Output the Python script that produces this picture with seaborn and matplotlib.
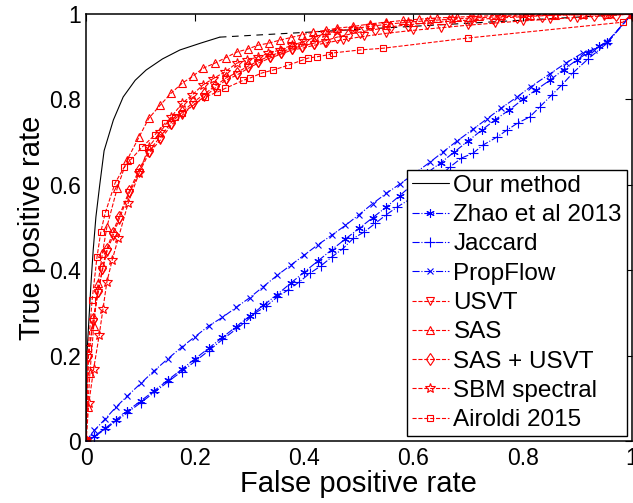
import matplotlib
matplotlib.use("Agg")
import matplotlib.pyplot as plt
import seaborn as sns

# ---- data ----
our_fpr = [0, 0.002, 0.009, 0.013, 0.018, 0.025, 0.033, 0.05, 0.068, 0.09, 0.11, 0.14, 0.172, 0.21, 0.245]
our_tpr = [0, 0.213, 0.37, 0.447, 0.525, 0.6, 0.68, 0.752, 0.806, 0.845, 0.869, 0.895, 0.916, 0.932, 0.946]
our_tail_fpr = [0.245, 1.0]
our_tail_tpr = [0.946, 1.0]

zhao_fpr = [0, 0.015, 0.035, 0.055, 0.075, 0.1, 0.125, 0.15, 0.175, 0.2, 0.225, 0.25, 0.275, 0.3, 0.325,
            0.35, 0.375, 0.4, 0.425, 0.45, 0.475, 0.5, 0.525, 0.55, 0.575, 0.6, 0.625, 0.65, 0.675, 0.7,
            0.725, 0.75, 0.775, 0.8, 0.825, 0.85, 0.875, 0.9, 0.92, 0.94, 0.955, 1.0]
zhao_tpr = [0, 0.012, 0.03, 0.05, 0.07, 0.094, 0.118, 0.143, 0.168, 0.193, 0.218, 0.243, 0.268, 0.293, 0.318,
            0.343, 0.37, 0.396, 0.422, 0.448, 0.473, 0.498, 0.523, 0.548, 0.575, 0.603, 0.628, 0.652, 0.677, 0.703,
            0.728, 0.753, 0.775, 0.8, 0.823, 0.845, 0.87, 0.893, 0.91, 0.925, 0.935, 1.0]

jac_fpr = [0, 0.015, 0.035, 0.055, 0.075, 0.1, 0.125, 0.15, 0.175, 0.2, 0.225, 0.25, 0.29, 0.31, 0.33, 0.35,
           0.37, 0.39, 0.41, 0.43, 0.45, 0.47, 0.49, 0.51, 0.53, 0.55, 0.57, 0.6, 0.63, 0.667, 0.688, 0.709,
           0.727, 0.753, 0.771, 0.791, 0.813, 0.831, 0.853, 0.872, 0.892, 0.92, 0.955, 1.0]
jac_tpr = [0, 0.01, 0.028, 0.047, 0.066, 0.09, 0.114, 0.139, 0.163, 0.187, 0.212, 0.238, 0.277, 0.3, 0.316, 0.337,
           0.354, 0.372, 0.393, 0.41, 0.431, 0.45, 0.475, 0.49, 0.51, 0.53, 0.548, 0.572, 0.6, 0.642, 0.663, 0.674,
           0.693, 0.712, 0.728, 0.745, 0.759, 0.782, 0.81, 0.834, 0.862, 0.895, 0.932, 1.0]

prop_fpr = [0, 0.015, 0.035, 0.055, 0.075, 0.1, 0.125, 0.15, 0.175, 0.2, 0.225, 0.25, 0.275, 0.3, 0.325, 0.35,
            0.375, 0.4, 0.425, 0.45, 0.475, 0.5, 0.525, 0.55, 0.575, 0.6, 0.63, 0.655, 0.68, 0.71, 0.735, 0.76,
            0.79, 0.815, 0.85, 0.88, 0.91, 0.93, 0.955, 1.0]
prop_tpr = [0, 0.025, 0.052, 0.08, 0.105, 0.135, 0.165, 0.193, 0.22, 0.245, 0.27, 0.29, 0.313, 0.336, 0.362, 0.388,
            0.412, 0.436, 0.46, 0.482, 0.505, 0.53, 0.556, 0.58, 0.602, 0.625, 0.653, 0.678, 0.703, 0.731, 0.755, 0.779,
            0.806, 0.83, 0.86, 0.886, 0.909, 0.917, 0.934, 1.0]

usvt_fpr = [0, 0.004, 0.013, 0.022, 0.03, 0.038, 0.049, 0.06, 0.079, 0.097, 0.115, 0.136, 0.156, 0.176, 0.196,
            0.216, 0.236, 0.256, 0.276, 0.297, 0.315, 0.337, 0.357, 0.377, 0.396, 0.418, 0.438, 0.47, 0.51, 0.55,
            0.6, 0.65, 0.7, 0.75, 0.8, 0.85, 0.9, 0.95, 1.0]
usvt_tpr = [0, 0.195, 0.28, 0.347, 0.4, 0.443, 0.48, 0.518, 0.58, 0.628, 0.674, 0.705, 0.74, 0.763, 0.787,
            0.806, 0.826, 0.845, 0.857, 0.873, 0.885, 0.897, 0.906, 0.916, 0.92, 0.927, 0.932, 0.94, 0.948, 0.955,
            0.962, 0.968, 0.974, 0.979, 0.984, 0.988, 0.992, 0.996, 1.0]

sas_fpr = [0, 0.003, 0.007, 0.014, 0.022, 0.03, 0.038, 0.057, 0.075, 0.097, 0.115, 0.136, 0.156, 0.176, 0.196,
           0.214, 0.236, 0.256, 0.276, 0.296, 0.315, 0.335, 0.355, 0.375, 0.395, 0.416, 0.44, 0.46, 0.49, 0.52,
           0.55, 0.58, 0.61, 0.643, 0.68, 0.72, 0.76, 0.813, 0.86, 0.91, 0.955, 1.0]
sas_tpr = [0, 0.08, 0.159, 0.27, 0.37, 0.44, 0.501, 0.592, 0.658, 0.712, 0.756, 0.787, 0.815, 0.838, 0.855,
           0.873, 0.885, 0.898, 0.911, 0.918, 0.927, 0.932, 0.939, 0.945, 0.951, 0.958, 0.962, 0.967, 0.971, 0.977,
           0.981, 0.985, 0.988, 0.991, 0.993, 0.995, 0.997, 0.998, 0.999, 1.0, 1.0, 1.0]

sasu_fpr = [0, 0.004, 0.013, 0.022, 0.03, 0.038, 0.049, 0.06, 0.079, 0.097, 0.115, 0.136, 0.156, 0.176, 0.196,
            0.216, 0.236, 0.256, 0.276, 0.297, 0.315, 0.337, 0.357, 0.377, 0.396, 0.418, 0.44, 0.46, 0.48, 0.502,
            0.53, 0.557, 0.59, 0.625, 0.665, 0.703, 0.745, 0.789, 0.835, 0.886, 0.93, 0.972, 1.0]
sasu_tpr = [0, 0.2, 0.285, 0.352, 0.405, 0.45, 0.488, 0.525, 0.585, 0.635, 0.68, 0.712, 0.746, 0.77, 0.793,
            0.812, 0.831, 0.85, 0.863, 0.878, 0.89, 0.902, 0.911, 0.92, 0.925, 0.932, 0.938, 0.946, 0.952, 0.958,
            0.964, 0.97, 0.975, 0.979, 0.983, 0.986, 0.99, 0.993, 0.996, 0.998, 0.998, 0.998, 1.0]

sbm_fpr = [0, 0.005, 0.014, 0.024, 0.031, 0.038, 0.048, 0.059, 0.077, 0.097, 0.115, 0.136, 0.156, 0.176, 0.194,
           0.214, 0.233, 0.255, 0.276, 0.295, 0.315, 0.334, 0.355, 0.377, 0.4, 0.42, 0.438, 0.46, 0.49, 0.52,
           0.55, 0.59, 0.63, 0.67, 0.71, 0.76, 0.81, 0.86, 0.91, 0.96, 1.0]
sbm_tpr = [0, 0.089, 0.17, 0.248, 0.31, 0.372, 0.425, 0.475, 0.557, 0.627, 0.689, 0.724, 0.759, 0.791, 0.81,
           0.834, 0.849, 0.865, 0.885, 0.892, 0.9, 0.908, 0.916, 0.927, 0.936, 0.946, 0.955, 0.96, 0.966, 0.971,
           0.976, 0.981, 0.985, 0.988, 0.991, 0.994, 0.996, 0.998, 0.999, 1.0, 1.0]

air_fpr = [0, 0.004, 0.011, 0.02, 0.027, 0.035, 0.053, 0.07, 0.081, 0.103, 0.126, 0.145, 0.163, 0.176, 0.218,
           0.24, 0.255, 0.288, 0.3, 0.322, 0.343, 0.37, 0.396, 0.407, 0.423, 0.445, 0.452, 0.502, 0.544, 0.7,
           0.984, 1.0]
air_tpr = [0, 0.218, 0.33, 0.431, 0.49, 0.534, 0.604, 0.642, 0.658, 0.689, 0.717, 0.745, 0.759, 0.768, 0.806,
           0.817, 0.826, 0.845, 0.85, 0.862, 0.869, 0.88, 0.892, 0.897, 0.9, 0.905, 0.909, 0.916, 0.92, 0.944,
           0.981, 1.0]

ticks = [0, 0.2, 0.4, 0.6, 0.8, 1]
tick_labels = ["0", "0.2", "0.4", "0.6", "0.8", "1"]

# ---- style ----
sns.set_style("white")
plt.rcParams["font.family"] = ["Liberation Sans", "DejaVu Sans"]
plt.rcParams["text.color"] = "black"
plt.rcParams["axes.labelcolor"] = "black"
plt.rcParams["xtick.color"] = "black"
plt.rcParams["ytick.color"] = "black"

fig = plt.figure(figsize=(6.33, 5.03), dpi=100)
ax = fig.add_axes([0.136, 0.123, 0.862, 0.849])

def draw(x, y, color, ls, marker, label, ms=6):
    sns.lineplot(x=x, y=y, ax=ax, sort=False, estimator=None, color=color, linestyle=ls,
                 linewidth=0.8, marker=marker, markersize=ms, markerfacecolor="none",
                 markeredgecolor=color, markeredgewidth=0.8, label=label)

draw(our_fpr, our_tpr, "black", "-", None, "Our method")
sns.lineplot(x=our_tail_fpr, y=our_tail_tpr, ax=ax, sort=False, estimator=None,
             color="black", linestyle=(0, (6, 5)), linewidth=0.8)
blue = "#0000ff"
red = "#ff0000"
draw(zhao_fpr, zhao_tpr, blue, "-.", (6, 2, 0), "Zhao et al 2013", ms=6)
draw(jac_fpr, jac_tpr, blue, "-.", "+", "Jaccard", ms=7)
draw(prop_fpr, prop_tpr, blue, "-.", "x", "PropFlow", ms=5)
draw(usvt_fpr, usvt_tpr, red, "--", "v", "USVT")
draw(sas_fpr, sas_tpr, red, "--", "^", "SAS")
draw(sasu_fpr, sasu_tpr, red, "--", "d", "SAS + USVT")
draw(sbm_fpr, sbm_tpr, red, "--", "*", "SBM spectral", ms=7)
draw(air_fpr, air_tpr, red, "--", "s", "Airoldi 2015", ms=5)

ax.set_xlim(0, 1)
ax.set_ylim(0, 1)
ax.set_xticks(ticks)
ax.set_xticklabels(tick_labels)
ax.set_yticks(ticks)
ax.set_yticklabels(tick_labels)
ax.tick_params(direction="in", top=True, right=True, length=5, width=0.8,
               labelsize=16.5, color="black", labelcolor="black", pad=4)
for sp in ax.spines.values():
    sp.set_color("black")
    sp.set_linewidth(1.1)
ax.set_xlabel("False positive rate", fontsize=21, labelpad=0, color="black")
ax.set_ylabel("True positive rate", fontsize=21, labelpad=2, color="black")

leg = ax.legend(loc="upper right", bbox_to_anchor=(0.991, 0.635), borderaxespad=0,
                fontsize=17.5, frameon=True, fancybox=False, framealpha=1,
                edgecolor="black", labelspacing=0.3, handlelength=1.5,
                handletextpad=0.2, borderpad=0.2, labelcolor="black")
leg.get_frame().set_linewidth(1.0)

fig.savefig("out.png", dpi=100)
